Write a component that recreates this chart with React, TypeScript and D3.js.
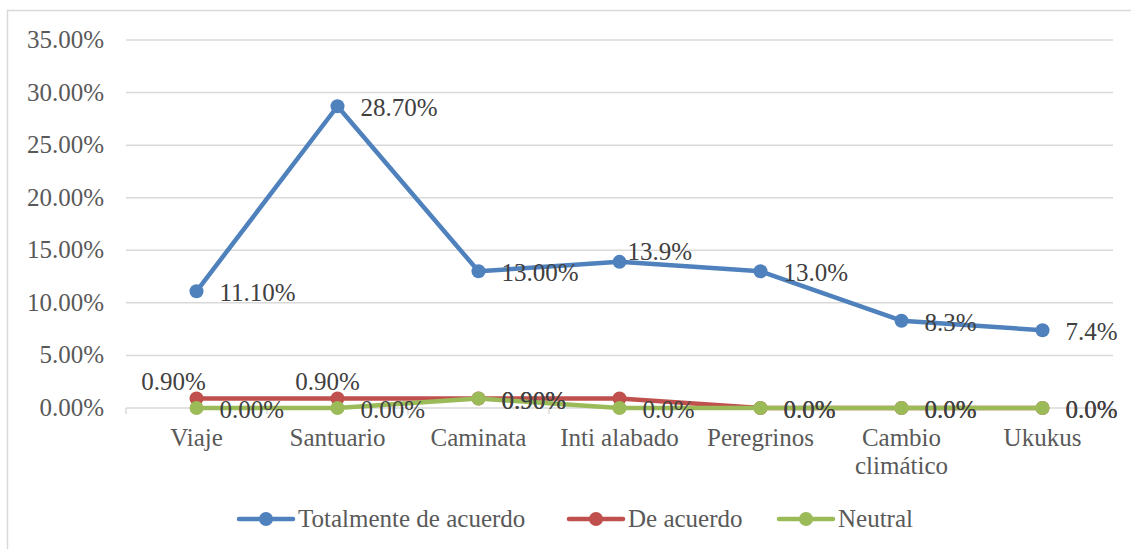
import React from "react";
import * as d3 from "d3";

const categories = ["Viaje", "Santuario", "Caminata", "Inti alabado", "Peregrinos", "Cambio\nclimático", "Ukukus"];
const totalmente = [0.111, 0.287, 0.13, 0.139, 0.13, 0.083, 0.074];
const deAcuerdo = [0.009, 0.009, 0.009, 0.009, 0, 0, 0];
const neutral = [0, 0, 0.009, 0, 0, 0, 0];
const totalmenteLabels = ["11.10%", "28.70%", "13.00%", "13.9%", "13.0%", "8.3%", "7.4%"];
const deAcuerdoLabels = ["0.90%", "0.90%", "0.90%", "", "0.0%", "0.0%", "0.0%"];
const neutralLabels = ["0.00%", "0.00%", "0.90%", "0.0%", "0.0%", "0.0%", "0.0%"];
const yTicks = [0, 0.05, 0.1, 0.15, 0.2, 0.25, 0.3, 0.35];
const seriesNames = ["Totalmente de acuerdo", "De acuerdo", "Neutral"];

// label placement offsets (dx, dy of label centre-left / centre relative to point)
type Pl = { dx: number; dy: number; anchor: "start" | "middle" };
const R: Pl = { dx: 23, dy: 2, anchor: "start" };
const totalPlace: Pl[] = [R, R, R, { dx: 8, dy: -10, anchor: "start" }, R, R, R];
const deAcPlace: Pl[] = [
  { dx: -23, dy: -16.5, anchor: "middle" },
  { dx: -10, dy: -16.5, anchor: "middle" },
  R, R, R, R, R,
];
const neutralPlace: Pl[] = [R, R, R, R, R, R, R];

const COLORS = ["#4f81bd", "#c0504d", "#9bbb59"];
const FONT = "'Liberation Serif', 'Times New Roman', serif";
const FS = 25;

export default function App() {
  const W = 1131, H = 549;
  const left = 126, right = 1113, top = 40, bottom = 408;
  const x = d3.scaleBand<string>().domain(categories).range([left, right]).padding(0);
  const cx = (c: string) => (x(c) as number) + x.bandwidth() / 2;
  const y = d3.scaleLinear().domain([0, 0.35]).range([bottom, top]);
  const fmt = d3.format(".2%");
  const line = d3.line<number>().x((_, i) => cx(categories[i])).y((d) => y(d));

  const series = [
    { vals: totalmente, labels: totalmenteLabels, place: totalPlace },
    { vals: deAcuerdo, labels: deAcuerdoLabels, place: deAcPlace },
    { vals: neutral, labels: neutralLabels, place: neutralPlace },
  ];

  const legendX = [239, 569, 779];
  const legendY = 519;

  return (
    <svg width={W} height={H} style={{ position: "absolute", left: 0, top: 0, background: "#fff" }} fontFamily={FONT}>
      <rect x={7.5} y={10.5} width={1130} height={545} fill="#fff" stroke="#d9d9d9" strokeWidth={1.5} />
      {/* gridlines */}
      {yTicks.map((t) => (
        <g key={t}>
          {t > 0 && <line x1={left} x2={right} y1={y(t)} y2={y(t)} stroke="#d9d9d9" strokeWidth={1.5} />}
          <text x={104} y={y(t) + 8} textAnchor="end" fontSize={FS} fill="#595959">
            {fmt(t)}
          </text>
        </g>
      ))}
      {/* x axis */}
      <line x1={left} x2={right} y1={bottom} y2={bottom} stroke="#d9d9d9" strokeWidth={1.5} />
      {d3.range(categories.length + 1).map((i) => {
        const xx = left + i * x.bandwidth();
        return <line key={i} x1={xx} x2={xx} y1={bottom} y2={bottom + 6} stroke="#d9d9d9" strokeWidth={1.5} />;
      })}
      {categories.map((c) => (
        <text key={c} x={cx(c)} y={446} textAnchor="middle" fontSize={FS} fill="#595959">
          {c.split("\n").map((s, j) => (
            <tspan key={j} x={cx(c)} dy={j === 0 ? 0 : 28}>
              {s}
            </tspan>
          ))}
        </text>
      ))}
      {/* series */}
      {series.map((s, k) => (
        <g key={k}>
          <path d={line(s.vals) as string} fill="none" stroke={COLORS[k]} strokeWidth={4.5} strokeLinejoin="round" strokeLinecap="round" />
          {s.vals.map((v, i) => (
            <circle key={i} cx={cx(categories[i])} cy={y(v)} r={7} fill={COLORS[k]} />
          ))}
        </g>
      ))}
      {/* labels */}
      {series.map((s, k) => (
        <g key={"l" + k}>
          {s.vals.map((v, i) =>
            s.labels[i] ? (
              <text
                key={i}
                x={cx(categories[i]) + s.place[i].dx}
                y={y(v) + s.place[i].dy + 8}
                textAnchor={s.place[i].anchor}
                fontSize={FS}
                fill="#404040"
              >
                {s.labels[i]}
              </text>
            ) : null
          )}
        </g>
      ))}
      {/* legend */}
      {seriesNames.map((n, k) => (
        <g key={n}>
          <line x1={legendX[k]} x2={legendX[k] + 54} y1={legendY} y2={legendY} stroke={COLORS[k]} strokeWidth={4.5} strokeLinecap="round" />
          <circle cx={legendX[k] + 27} cy={legendY} r={7} fill={COLORS[k]} />
          <text x={legendX[k] + 59} y={legendY + 8} fontSize={FS} fill="#595959">
            {n}
          </text>
        </g>
      ))}
    </svg>
  );
}
